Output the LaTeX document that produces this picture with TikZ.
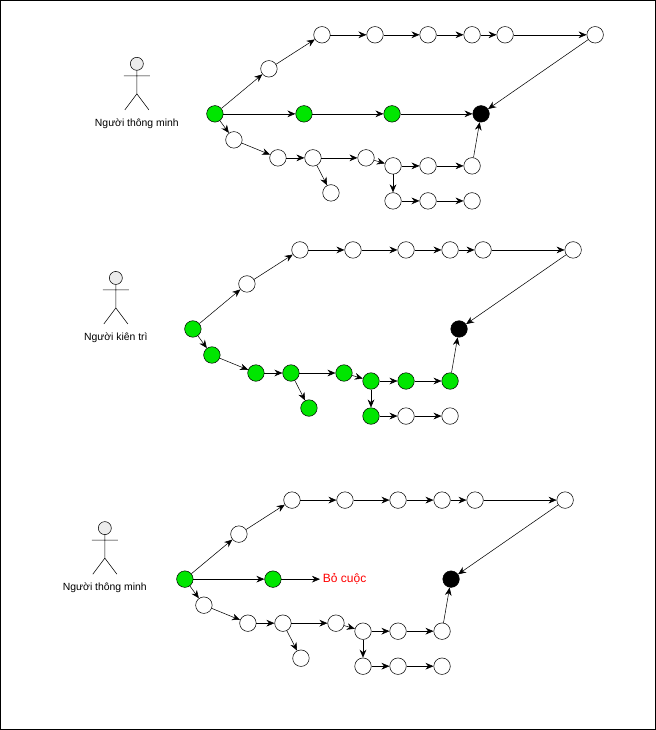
\documentclass[tikz,border=0pt]{standalone}
\usepackage{fontspec}
\setmainfont{Liberation Sans}
\usetikzlibrary{arrows.meta}
\definecolor{gr}{RGB}{0,230,0}
\newcommand\mygraph[1]{%
\begin{scope}[shift={#1}]
\node[st,fill=gr] (s) at (215,114) {};
\node[st] (u1) at (269,69) {};
\node[st] (t1) at (322,35) {};
\node[st] (t2) at (375,35) {};
\node[st] (t3) at (428,35) {};
\node[st] (t4) at (472,35) {};
\node[st] (t5) at (505,35) {};
\node[st] (t6) at (595,35) {};
\node[st,fill=black] (k) at (481,114) {};
\node[st,bg] (b1) at (234,140) {};
\node[st,bg] (b2) at (278,158) {};
\node[st,bg] (b3) at (313,158) {};
\node[st,bg] (b3d) at (331,193) {};
\node[st,bg] (b4) at (366,158) {};
\node[st,bg] (b5) at (393,166) {};
\node[st,bg] (b6) at (428,166) {};
\node[st,bg] (b7) at (472,166) {};
\node[st,bg] (b5d) at (393,201) {};
\node[st] (b8) at (428,201) {};
\node[st] (b9) at (472,201) {};
\draw[ar] (s)--(u1); \draw[ar] (u1)--(t1); \draw[ar] (t1)--(t2); \draw[ar] (t2)--(t3);
\draw[ar] (t3)--(t4); \draw[ar] (t4)--(t5); \draw[ar] (t5)--(t6); \draw[ar] (t6)--(k);
\draw[ar] (s)--(b1); \draw[ar] (b1)--(b2); \draw[ar] (b2)--(b3); \draw[ar] (b3)--(b3d);
\draw[ar] (b3)--(b4); \draw[ar] (b4)--(b5); \draw[ar] (b5)--(b6); \draw[ar] (b6)--(b7);
\draw[ar] (b7)--(k); \draw[ar] (b5)--(b5d); \draw[ar] (b5d)--(b8); \draw[ar] (b8)--(b9);
\end{scope}}
\newcommand\actor[3]{%
\draw[fill=gray!15] (#1,#2-22) circle (6.5);
\draw (#1,#2-15.5)--(#1,#2+8) (#1-13,#2-10)--(#1+13,#2-10)
 (#1-12,#2+24)--(#1,#2+8)--(#1+12,#2+24);
\node[lbl] at (#1,#2+38) {#3};}
\begin{document}
\begin{tikzpicture}[x=0.75pt,y=-0.75pt,
 st/.style={circle,draw,fill=white,minimum size=16.5*0.75pt,inner sep=0},
 bg/.style={},
 ar/.style={-{Stealth[length=6pt,width=5pt]}},
 lbl/.style={font=\fontsize{7.8}{9}\selectfont}]
\draw (0.5,0.5) rectangle (655.5,729.5);
\actor{137}{86}{Người thông minh}
\actor{116}{300}{Người kiên trì}
\actor{105}{550}{Người thông minh}
\mygraph{(0,0)}
\node[st,fill=gr] (g1) at (304,114) {};
\node[st,fill=gr] (g2) at (392,114) {};
\draw[ar] (s)--(g1); \draw[ar] (g1)--(g2); \draw[ar] (g2)--(k);
\begin{scope}[bg/.style={fill=gr}]
\mygraph{(-22,215)}
\end{scope}
\mygraph{(-30,465)}
\node[st,fill=gr] (h1) at (273,579) {};
\node[text=red,font=\fontsize{9}{10}\selectfont,anchor=west,inner sep=2pt] (q) at (320,579) {Bỏ cuộc};
\draw[ar] (h1)--(q); \draw[ar] (s)--(h1);
\end{tikzpicture}
\end{document}
